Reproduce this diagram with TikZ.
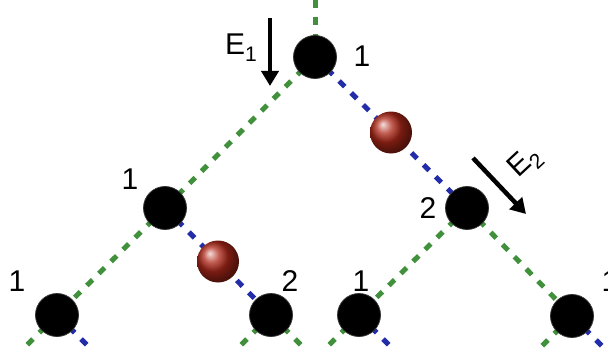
\documentclass[tikz,border=0pt]{standalone}
\usepackage{fontspec}
\setmainfont{Liberation Sans}
\usetikzlibrary{arrows.meta,calc}
\definecolor{lgreen}{RGB}{65,145,60}
\definecolor{lblue}{RGB}{35,45,170}
\definecolor{ballred}{RGB}{175,40,25}
\tikzset{
  site/.style={circle,fill=black,draw=black!80,line width=0.8pt,minimum size=43pt,inner sep=0pt},
  redball/.style={circle,ball color=ballred,minimum size=42pt,inner sep=0pt},
  gbond/.style={draw=lgreen,line width=5pt,dash pattern=on 8pt off 9pt},
  bbond/.style={draw=lblue,line width=5pt,dash pattern=on 8pt off 9pt},
  lbl/.style={font=\fontsize{30}{34}\selectfont,inner sep=0pt},
  field/.style={line width=4.5pt,-{Triangle[width=17pt,length=15pt]}},
}
\begin{document}
\begin{tikzpicture}[x=1pt,y=-1pt]
\clip (0,0) rectangle (608,353);
\fill[white] (0,0) rectangle (608,353);
% coordinates
\coordinate (T) at (315,57);
\coordinate (L) at (165,208);
\coordinate (R) at (467,208);
\coordinate (B1) at (57,315);
\coordinate (B2) at (271,315);
\coordinate (B3) at (359,315);
\coordinate (B4) at (572,316);
\coordinate (Ttop) at (315,0);
\coordinate (B1a) at ($(B1)+(-30,30)$);
\coordinate (B1b) at ($(B1)+(30,30)$);
\coordinate (B2a) at ($(B2)+(-30,30)$);
\coordinate (B2b) at ($(B2)+(30,30)$);
\coordinate (B3a) at ($(B3)+(-30,30)$);
\coordinate (B3b) at ($(B3)+(30,30)$);
\coordinate (B4a) at ($(B4)+(-30,30)$);
\coordinate (B4b) at ($(B4)+(30,30)$);
% bonds
\draw[gbond] (Ttop) -- (T);
\draw[gbond] (T) -- (L);
\draw[bbond] (T) -- (R);
\draw[gbond] (L) -- (B1);
\draw[bbond] (L) -- (B2);
\draw[gbond] (R) -- (B3);
\draw[gbond] (R) -- (B4);
\draw[gbond] (B1) -- (B1a);
\draw[bbond] (B1) -- (B1b);
\draw[gbond] (B2) -- (B2a);
\draw[gbond] (B2) -- (B2b);
\draw[gbond] (B3) -- (B3a);
\draw[bbond] (B3) -- (B3b);
\draw[gbond] (B4) -- (B4a);
\draw[bbond] (B4) -- (B4b);
% sites
\node[site] (nT) at (T) {};
\node[site] (nL) at (L) {};
\node[site] (nR) at (R) {};
\node[site] (nB1) at (B1) {};
\node[site] (nB2) at (B2) {};
\node[site] (nB3) at (B3) {};
\node[site] (nB4) at (B4) {};
\node[redball] (r1) at ($(T)!0.5!(R)$) {};
\node[redball] (r2) at ($(L)!0.5!(B2)$) {};
% labels
\node[lbl] (lT) at (362,56) {1};
\node[lbl] (lL) at (130,179) {1};
\node[lbl] (lR) at (428,208) {2};
\node[lbl] (lB1) at (17,281) {1};
\node[lbl] (lB2) at (290,281) {2};
\node[lbl] (lB3) at (361,281) {1};
\node[lbl] (lB4) at (610,281) {1};
% fields
\coordinate (e1s) at (270,18);
\coordinate (e1e) at (270,86);
\draw[field] (e1s) -- (e1e);
\node[lbl,anchor=base west] (E1) at (225,55) {E\raisebox{-7pt}{\fontsize{21}{22}\selectfont 1}};
\coordinate (e2s) at (473,158);
\coordinate (e2e) at (526,214);
\draw[field] (e2s) -- (e2e);
\node[lbl,rotate=43] (E2) at (525,163) {E\raisebox{-7pt}{\fontsize{21}{22}\selectfont 2}};
\end{tikzpicture}
\end{document}
